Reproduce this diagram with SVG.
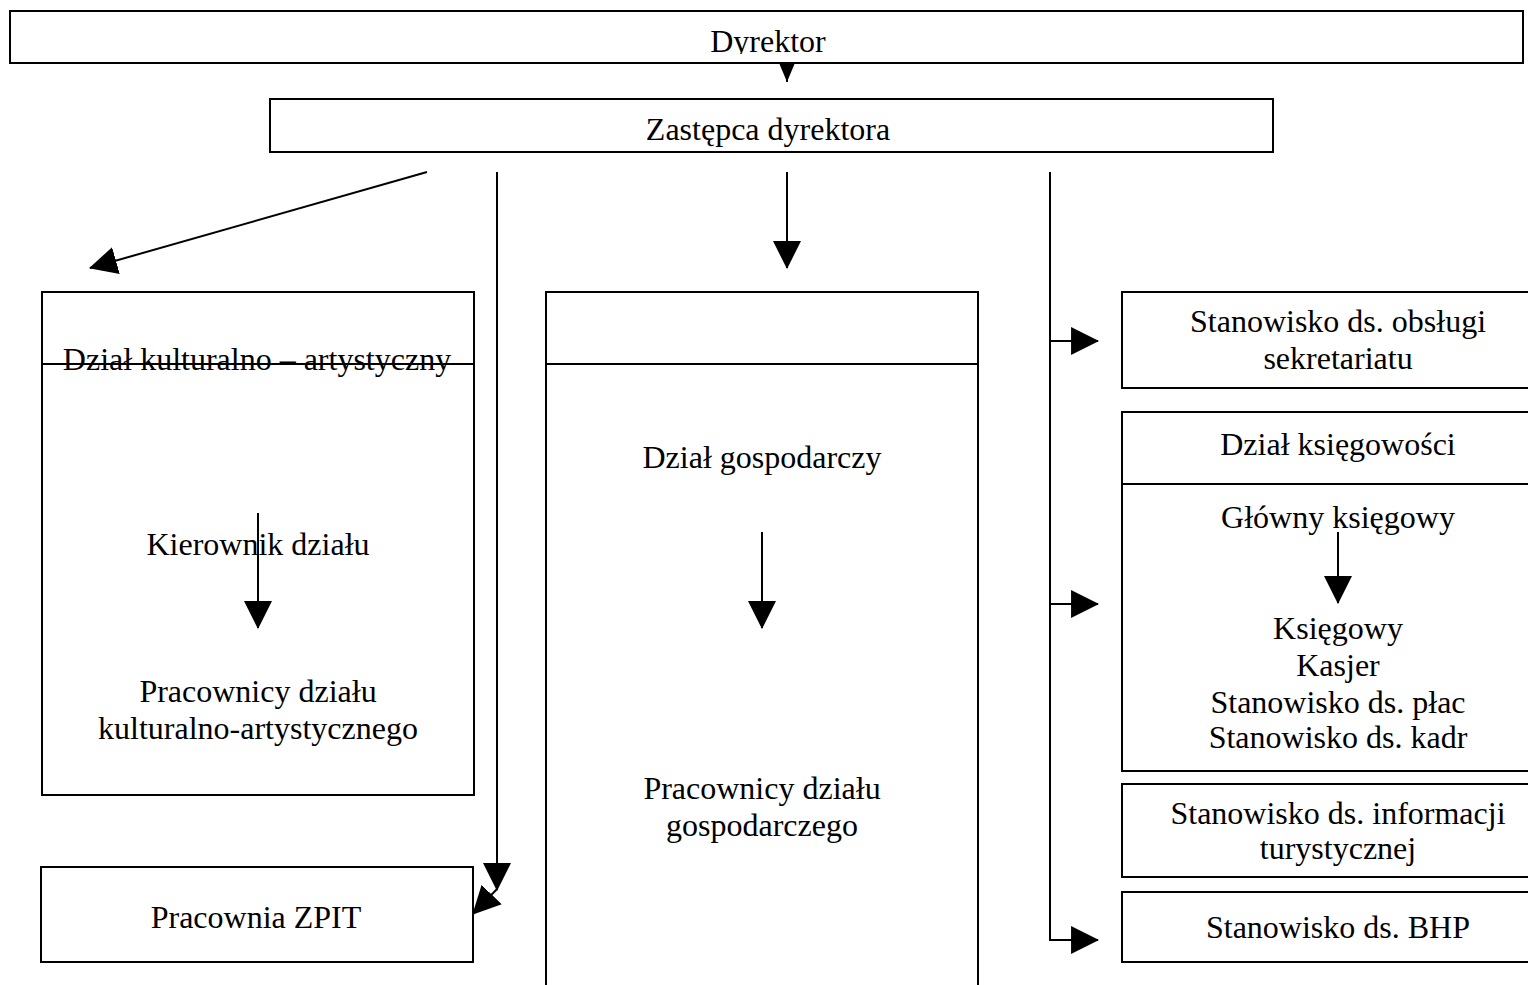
<svg xmlns="http://www.w3.org/2000/svg" width="1528" height="985" viewBox="0 0 1528 985">
<style>
  .box { fill: #fff; stroke: #000; stroke-width: 2; }
  .ln { fill: none; stroke: #000; stroke-width: 2; }
  .t { font-family: "Liberation Serif", "Times New Roman", serif; font-size: 32px; fill: #000; text-anchor: middle; }
</style>
<defs>
  <marker id="arr" markerUnits="userSpaceOnUse" markerWidth="28" markerHeight="28" viewBox="0 0 27 27" refX="26" refY="13.5" orient="auto">
    <path d="M0,0 L27,13.5 L0,27 z" fill="#000"/>
  </marker>
  <marker id="arrS" markerUnits="userSpaceOnUse" markerWidth="19" markerHeight="16" viewBox="0 0 18 15" refX="18" refY="7.5" orient="auto">
    <path d="M0,0 L18,7.5 L0,15 z" fill="#000"/>
  </marker>
  <clipPath id="clipDyr"><rect x="0" y="0" width="1528" height="54"/></clipPath>
</defs>
<rect width="1528" height="985" fill="#fff"/>

<g id="dyrektor">
  <rect class="box" x="10" y="11" width="1513" height="52"/>
  <text class="t" x="768" y="52" clip-path="url(#clipDyr)">Dyrektor</text>
</g>

<g id="zastepca">
  <rect class="box" x="270" y="99" width="1003" height="53"/>
  <text class="t" x="768" y="140">Zastępca dyrektora</text>
</g>

<g id="dzial-kulturalno">
  <rect class="box" x="42" y="292" width="432" height="503"/>
  <line class="ln" x1="42" y1="364" x2="474" y2="364"/>
  <text class="t" x="257" y="370">Dział kulturalno – artystyczny</text>
  <text class="t" x="258" y="555">Kierownik działu</text>
  <text class="t" x="258" y="702">Pracownicy działu</text>
  <text class="t" x="258" y="739">kulturalno-artystycznego</text>
</g>

<g id="pracownia-zpit">
  <rect class="box" x="41" y="867" width="432" height="95"/>
  <text class="t" x="256" y="928">Pracownia ZPIT</text>
</g>

<g id="dzial-gospodarczy">
  <path class="ln" d="M546,986 V292 H978 V986" fill="#fff"/>
  <line class="ln" x1="546" y1="364" x2="978" y2="364"/>
  <text class="t" x="762" y="468">Dział gospodarczy</text>
  <text class="t" x="762" y="799">Pracownicy działu</text>
  <text class="t" x="762" y="836">gospodarczego</text>
</g>

<g id="sekretariat">
  <rect class="box" x="1122" y="292" width="430" height="96"/>
  <text class="t" x="1338" y="332">Stanowisko ds. obsługi</text>
  <text class="t" x="1338" y="369">sekretariatu</text>
</g>

<g id="ksiegowosc">
  <rect class="box" x="1122" y="412" width="430" height="359"/>
  <line class="ln" x1="1122" y1="484" x2="1552" y2="484"/>
  <text class="t" x="1338" y="455">Dział księgowości</text>
  <text class="t" x="1338" y="528">Główny księgowy</text>
  <text class="t" x="1338" y="639">Księgowy</text>
  <text class="t" x="1338" y="676">Kasjer</text>
  <text class="t" x="1338" y="713">Stanowisko ds. płac</text>
  <text class="t" x="1338" y="748">Stanowisko ds. kadr</text>
</g>

<g id="informacja">
  <rect class="box" x="1122" y="784" width="430" height="93"/>
  <text class="t" x="1338" y="824">Stanowisko ds. informacji</text>
  <text class="t" x="1338" y="859">turystycznej</text>
</g>

<g id="bhp">
  <rect class="box" x="1122" y="892" width="430" height="70"/>
  <text class="t" x="1338" y="938">Stanowisko ds. BHP</text>
</g>

<g id="connectors">
  <line class="ln" x1="787" y1="63" x2="787" y2="82" marker-end="url(#arrS)"/>
  <line class="ln" x1="427" y1="172" x2="90" y2="268" marker-end="url(#arr)"/>
  <line class="ln" x1="497" y1="172" x2="497" y2="890" marker-end="url(#arr)"/>
  <line class="ln" x1="497" y1="889" x2="473" y2="914" marker-end="url(#arr)"/>
  <line class="ln" x1="787" y1="172" x2="787" y2="268" marker-end="url(#arr)"/>
  <path class="ln" d="M1050,172 V940 H1098" marker-end="url(#arr)"/>
  <line class="ln" x1="1050" y1="341" x2="1098" y2="341" marker-end="url(#arr)"/>
  <line class="ln" x1="1050" y1="604" x2="1098" y2="604" marker-end="url(#arr)"/>
  <line class="ln" x1="258" y1="513" x2="258" y2="628" marker-end="url(#arr)"/>
  <line class="ln" x1="762" y1="532" x2="762" y2="628" marker-end="url(#arr)"/>
  <line class="ln" x1="1338" y1="532" x2="1338" y2="603" marker-end="url(#arr)"/>
</g>
</svg>
